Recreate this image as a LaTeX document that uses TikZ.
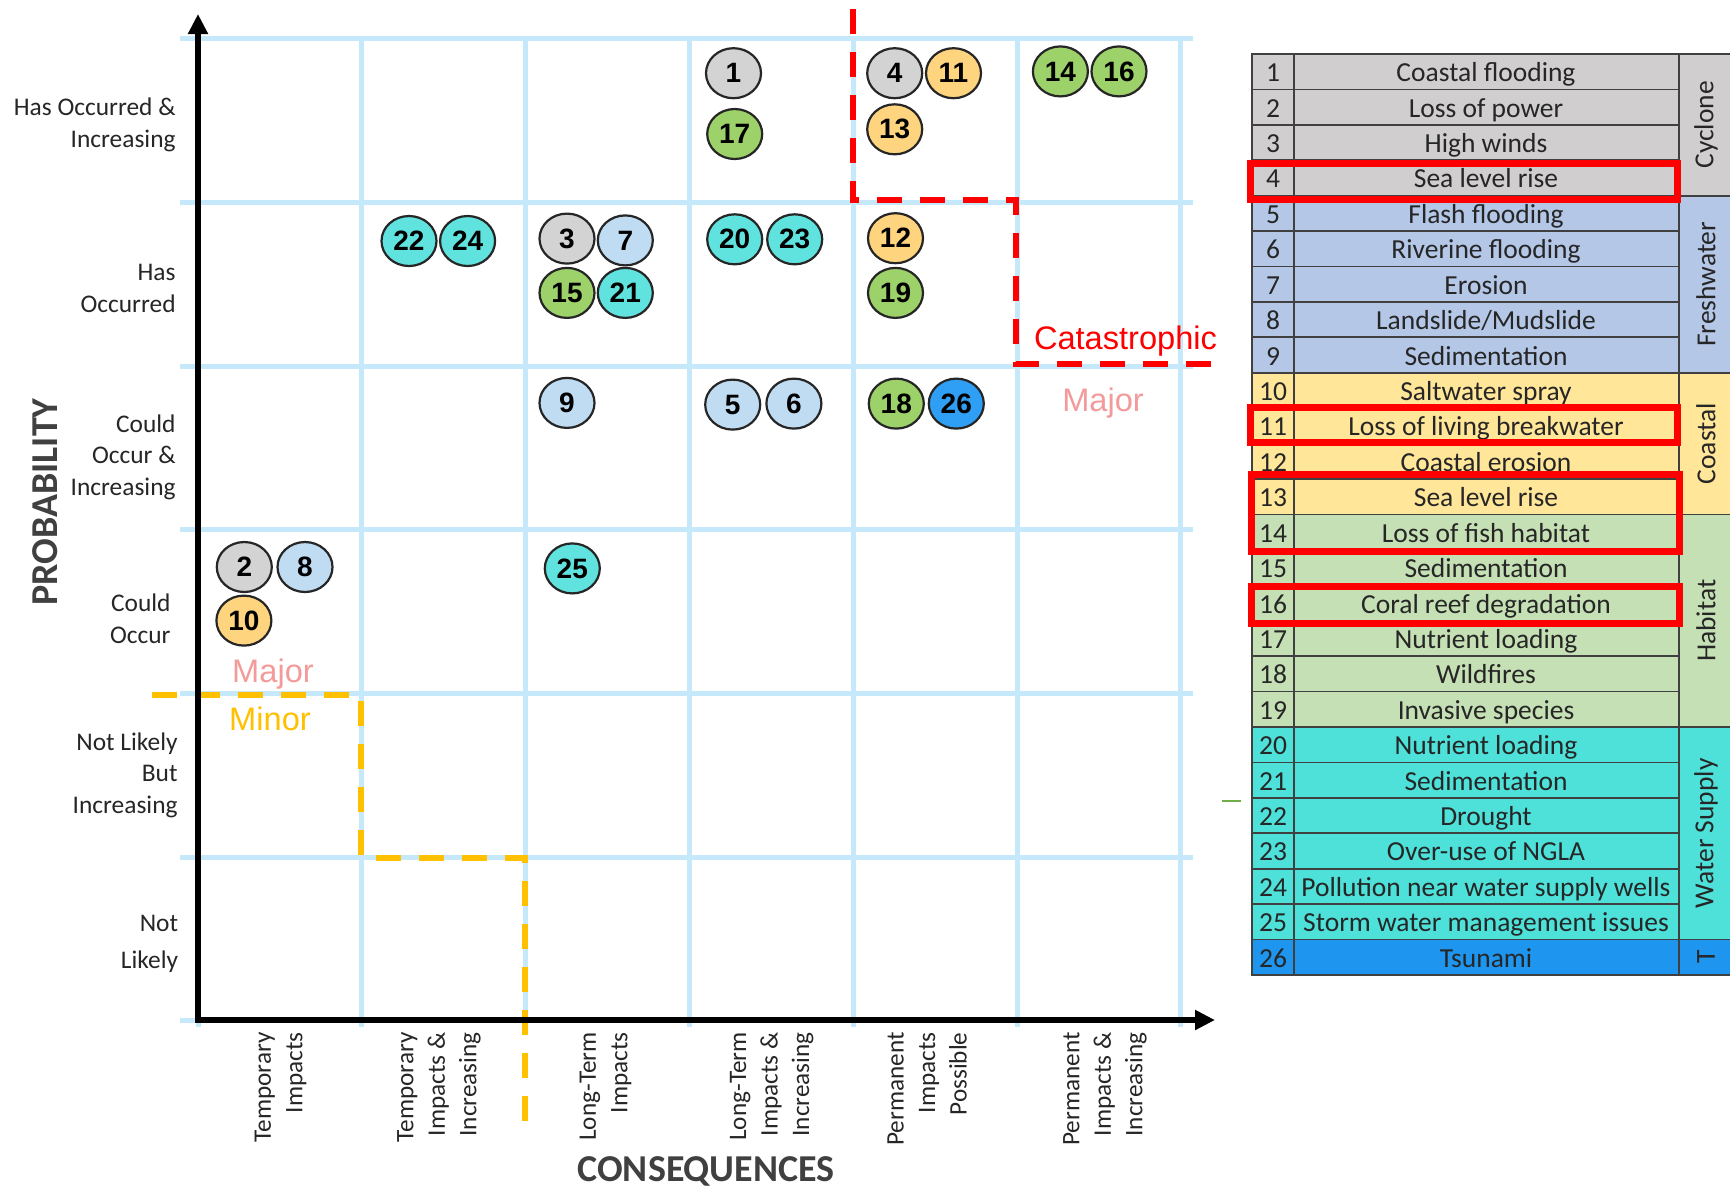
\documentclass[tikz,border=0pt]{standalone}
\usepackage{fontspec}
\setmainfont{Carlito}
\newfontfamily\arialf{Liberation Sans}
\usetikzlibrary{shapes.geometric,arrows.meta}

\definecolor{gridblue}{RGB}{197,233,250}
\definecolor{labgray}{RGB}{38,38,38}
\definecolor{titlegray}{RGB}{64,64,64}
\definecolor{majorpink}{RGB}{243,155,155}
\definecolor{minoryel}{RGB}{255,192,0}
\definecolor{bgray}{RGB}{211,211,211}
\definecolor{bblue}{RGB}{192,220,242}
\definecolor{borange}{RGB}{255,212,127}
\definecolor{bgreen}{RGB}{157,209,106}
\definecolor{bcyan}{RGB}{96,227,223}
\definecolor{bdblue}{RGB}{47,158,245}
\definecolor{tgray}{RGB}{208,206,206}
\definecolor{tblue}{RGB}{180,199,231}
\definecolor{tcoast}{RGB}{255,230,153}
\definecolor{thab}{RGB}{197,224,180}
\definecolor{twater}{RGB}{77,225,218}
\definecolor{ttsu}{RGB}{30,150,240}
\definecolor{tline}{RGB}{64,64,64}
\definecolor{strayg}{RGB}{112,173,71}

\begin{document}
\begin{tikzpicture}[x=0.5pt,y=-0.5pt,
  gridl/.style={draw=gridblue, line width=2.5pt},
  reddash/.style={draw=red, line width=3pt, dash pattern=on 12.5pt off 9pt},
  yeldash/.style={draw=minoryel, line width=3pt, dash pattern=on 12.5pt off 9pt},
  axisl/.style={draw=black, line width=3pt, line join=miter,
     {Triangle[width=9.5pt,length=10pt]}-{Triangle[width=9.5pt,length=10pt]}},
  bub/.style={ellipse, draw=labgray, line width=1.1pt, minimum width=27.5pt,
     minimum height=25pt, inner sep=0pt, text=black,
     font=\arialf\bfseries\fontsize{14}{14}\selectfont},
  rowlab/.style={anchor=east, align=right, inner sep=0pt, text=labgray,
     font=\fontsize{12.7}{15.8}\selectfont},
  collab/.style={rotate=90, anchor=east, align=right, inner sep=0pt, text=labgray,
     font=\fontsize{12.6}{15.75}\selectfont},
  axtitle/.style={inner sep=0pt, text=titlegray, font=\bfseries\fontsize{19}{19}\selectfont},
  zone/.style={anchor=base, inner sep=0pt, font=\arialf\fontsize{16.3}{16.3}\selectfont},
  tl/.style={draw=tline, line width=0.9pt},
  ttext/.style={anchor=base, inner sep=0pt, text=labgray, font=\fontsize{13.75}{13.75}\selectfont},
  cattext/.style={rotate=90, inner sep=0pt, text=labgray, font=\fontsize{13.75}{13.75}\selectfont},
  redbox/.style={draw=red, line width=3.5pt}
]
\fill[white] (0,0) rectangle (1730,1191);
\useasboundingbox (0,0) rectangle (1730,1191);

% grid
\foreach \x in {198,361.8,525.6,689.4,853.2,1017,1180.8}
  \draw[gridl] (\x,38) -- (\x,1027);
\foreach \y in {38.6,202.3,366,529.7,693.4,857,1020.8}
  \draw[gridl] (180,\y) -- (1193,\y);

% zone boundaries
\coordinate (r1) at (853,9);
\coordinate (r2) at (853,200);
\coordinate (r3) at (1016,200);
\coordinate (r4) at (1016,364);
\coordinate (r5) at (1213,364);
\draw[reddash] (r1) -- (r2) -- (r3) -- (r4) -- (r5);

\coordinate (y1) at (152,694.5);
\coordinate (y2) at (361,694.5);
\coordinate (y3) at (361,858);
\coordinate (y4) at (525,858);
\coordinate (y5) at (525,1123);
\draw[yeldash] (y1) -- (y2) -- (y3) -- (y4) -- (y5);

% axes
\coordinate (O) at (198,1020);
\coordinate (ytip) at (198,14);
\coordinate (xtip) at (1215,1020);
\draw[axisl] (ytip) -- (O) -- (xtip);

% zone labels
\node[zone, text=red] (lcat) at (1125.5,349) {Catastrophic};
\node[zone, text=majorpink] (lmaj1) at (1103,411) {Major};
\node[zone, text=majorpink] (lmaj2) at (273,682) {Major};
\node[zone, text=minoryel] (lmin) at (270,730.5) {Minor};

% row labels
\node[rowlab] (rl1) at (176,125) {Has Occurred \&\\Increasing};
\node[rowlab] (rl2) at (176,288.5) {Has\\Occurred};
\node[rowlab] (rl3) at (176,457) {Could\\Occur \&\\Increasing};
\node[rowlab] (rl4) at (171,618.6) {Could\\Occur};
\node[rowlab] (rl5) at (178,775) {Not Likely\\But\\Increasing};
\node[rowlab] (rl6) at (178.5,944) {Not\\[2.5pt]Likely};

% column labels
\node[collab] (cl1) at (280.5,1032) {Temporary\\Impacts};
\node[collab] (cl2) at (439,1032) {Temporary\\Impacts \&\\Increasing};
\node[collab] (cl3) at (605.5,1032) {Long-Term\\Impacts};
\node[collab] (cl4) at (771.7,1032) {Long-Term\\Impacts \&\\Increasing};
\node[collab] (cl5) at (927,1032) {Permanent\\Impacts\\Possible};
\node[collab] (cl6) at (1105,1032) {Permanent\\Impacts \&\\Increasing};

% axis titles
\node[axtitle, rotate=90] (ptitle) at (45,502) {PROBABILITY};
\node[axtitle] (ctitle) at (706,1171) {CONSEQUENCES};

% bubbles
\node[bub, fill=bgray] (b1) at (733.5,73.2) {1};
\node[bub, fill=bgray] (b2) at (244.3,567) {2};
\node[bub, fill=bgray] (b3) at (567,238.6) {3};
\node[bub, fill=bgray] (b4) at (894.7,73.2) {4};
\node[bub, fill=bblue] (b5) at (732.7,404.6) {5};
\node[bub, fill=bblue] (b6) at (793.9,403.6) {6};
\node[bub, fill=bblue] (b7) at (625.3,240.4) {7};
\node[bub, fill=bblue] (b8) at (305,567) {8};
\node[bub, fill=bblue] (b9) at (567,402.9) {9};
\node[bub, fill=borange] (b10) at (243.9,620.6) {10};
\node[bub, fill=borange] (b11) at (953.5,73.2) {11};
\node[bub, fill=borange] (b12) at (895.5,238.2) {12};
\node[bub, fill=borange] (b13) at (894.7,129.3) {13};
\node[bub, fill=bgreen] (b14) at (1060.4,71.4) {14};
\node[bub, fill=bgreen] (b15) at (567,292.9) {15};
\node[bub, fill=bgreen] (b16) at (1119,71.4) {16};
\node[bub, fill=bgreen] (b17) at (734.7,134) {17};
\node[bub, fill=bgreen] (b18) at (896.3,403.6) {18};
\node[bub, fill=bgreen] (b19) at (895.5,292.9) {19};
\node[bub, fill=bcyan] (b20) at (734.7,239.3) {20};
\node[bub, fill=bcyan] (b21) at (625.3,292.9) {21};
\node[bub, fill=bcyan] (b22) at (409,241) {22};
\node[bub, fill=bcyan] (b23) at (794.7,239.3) {23};
\node[bub, fill=bcyan] (b24) at (467.6,241) {24};
\node[bub, fill=bcyan] (b25) at (572.3,568.4) {25};
\node[bub, fill=bdblue] (b26) at (956.3,403.6) {26};

% stray mark
\coordinate (g1) at (1222,801);
\coordinate (g2) at (1241,801);
\draw[strayg, line width=0.75pt] (g1) -- (g2);

% table
\def\rowlist{1/Coastal flooding/tgray, 2/Loss of power/tgray, 3/High winds/tgray,
 4/Sea level rise/tgray, 5/Flash flooding/tblue, 6/Riverine flooding/tblue,
 7/Erosion/tblue, 8/{Landslide/Mudslide}/tblue, 9/Sedimentation/tblue,
 10/Saltwater spray/tcoast, 11/Loss of living breakwater/tcoast,
 12/Coastal erosion/tcoast, 13/Sea level rise/tcoast, 14/Loss of fish habitat/thab,
 15/Sedimentation/thab, 16/Coral reef degradation/thab, 17/Nutrient loading/thab,
 18/Wildfires/thab, 19/Invasive species/thab, 20/Nutrient loading/twater,
 21/Sedimentation/twater, 22/Drought/twater, 23/Over-use of NGLA/twater,
 24/Pollution near water supply wells/twater, 25/Storm water management issues/twater,
 26/Tsunami/ttsu}
\def\grouplist{1/4/Cyclone/tgray/cyc, 5/9/Freshwater/tblue/fre, 10/13/Coastal/tcoast/coa,
 14/19/Habitat/thab/hab, 20/25/Water Supply/twater/wat, 26/26/T/ttsu/tsu}

\foreach \k/\t/\c in \rowlist {
  \pgfmathsetmacro\ya{54+(\k-1)*35.42}
  \pgfmathsetmacro\yb{54+\k*35.42}
  \fill[\c] (1252,\ya) rectangle (1678.7,\yb);
}
\foreach \a/\b/\t/\c/\nm in \grouplist {
  \pgfmathsetmacro\ya{54+(\a-1)*35.42}
  \pgfmathsetmacro\yb{54+\b*35.42}
  \fill[\c] (1678.7,\ya) rectangle (1745,\yb);
}
\foreach \k/\t/\c in \rowlist {
  \pgfmathsetmacro\ya{54+(\k-1)*35.42}
  \pgfmathsetmacro\yb{54+\k*35.42}
  \draw[tl] (1252,\ya) rectangle (1294,\yb);
  \draw[tl] (1294,\ya) rectangle (1678.7,\yb);
  \node[ttext] (num\k) at (1273,\ya+27.7) {\k};
  \node[ttext] (desc\k) at (1486,\ya+27.7) {\t};
}
\foreach \a/\b/\t/\c/\nm in \grouplist {
  \pgfmathsetmacro\ya{54+(\a-1)*35.42}
  \pgfmathsetmacro\yb{54+\b*35.42}
  \draw[tl] (1745,\ya) -- (1678.7,\ya) -- (1678.7,\yb) -- (1745,\yb);
  \node[cattext] (cat\nm) at (1706,{(\ya+\yb)/2}) {\t};
}

% highlight boxes
\draw[redbox] (1250.2,163.5) rectangle (1677.2,199.5);
\draw[redbox] (1250.2,407.5) rectangle (1677.2,442.5);
\draw[redbox] (1251.8,474.5) rectangle (1679.2,551.5);
\draw[redbox] (1251.8,586.2) rectangle (1679.2,623.2);
\end{tikzpicture}
\end{document}
